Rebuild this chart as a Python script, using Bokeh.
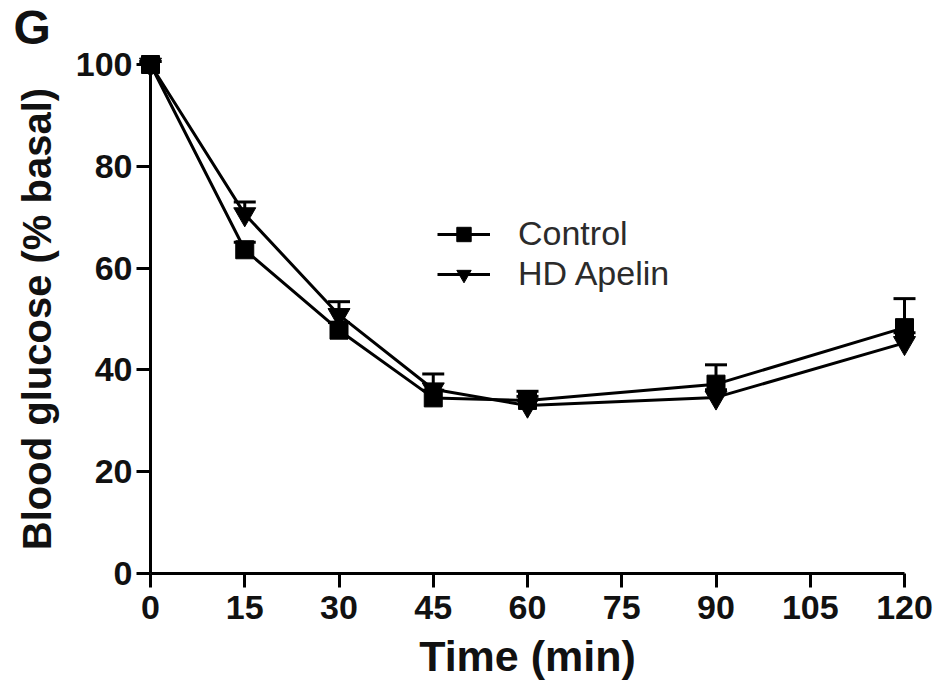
from bokeh.plotting import figure
from bokeh.models import (Range1d, Whisker, ColumnDataSource, Legend, LegendItem,
                          Label, FixedTicker, TeeHead)
from bokeh.embed import file_html
from bokeh.resources import INLINE

# ---- data ----
time_min = [0, 15, 30, 45, 60, 90, 120]
control = [100, 63.6, 47.8, 34.5, 34.0, 37.2, 48.3]
control_err = [0.6, 1.5, 1.5, 1.5, 1.8, 3.8, 5.7]
hd_apelin = [100, 70.6, 50.8, 36.2, 33.0, 34.6, 45.3]
hd_err = [0.6, 2.4, 2.6, 3.0, 1.8, 1.5, 2.0]
x_ticks = [0, 15, 30, 45, 60, 75, 90, 105, 120]
y_ticks = [0, 20, 40, 60, 80, 100]
series_names = ["Control", "HD Apelin"]
panel_letter = "G"

# ---- layout (figure pixels) ----
W, H = 935, 691
x0_px, x120_px = 150, 904      # where data x=0 and x=120 fall
y0_px, y100_px = 573, 64       # where data y=0 and y=100 fall
sx = (x120_px - x0_px) / 120.0
sy = (y0_px - y100_px) / 100.0
x_start = -x0_px / sx
x_end = 120 + (W - x120_px) / sx
y_start = -(H - y0_px) / sy
y_end = 100 + y100_px / sy

def dx(px):
    return x_start + px / sx

def dy(py):
    return y_end - py / sy

p = figure(width=W, height=H, output_backend="svg", toolbar_location=None,
           x_range=Range1d(x_start, x_end), y_range=Range1d(y_start, y_end),
           min_border_left=0, min_border_right=0,
           min_border_top=0, min_border_bottom=0)
p.outline_line_color = None
p.grid.visible = False
p.background_fill_color = "white"
p.border_fill_color = "white"

font = "Liberation Sans"

# lines + markers
r_cl = p.line(time_min, control, line_width=3, line_color="black")
r_cm = p.scatter(time_min, control, marker="square", size=18, color="black")
r_hl = p.line(time_min, hd_apelin, line_width=3, line_color="black")
r_hm = p.scatter(time_min, hd_apelin, marker="inverted_triangle", size=22, color="black")

# error bars (upper only)
for vals, errs in ((control, control_err), (hd_apelin, hd_err)):
    src = ColumnDataSource(dict(x=time_min, lower=vals,
                                upper=[v + e for v, e in zip(vals, errs)]))
    w = Whisker(base="x", lower="lower", upper="upper", source=src,
                dimension="height", line_width=3, line_color="black",
                upper_head=TeeHead(size=22, line_width=3, line_color="black"),
                lower_head=None)
    p.add_layout(w)

# axes
for ax in (p.xaxis[0], p.yaxis[0]):
    ax.fixed_location = 0
    ax.axis_line_width = 3
    ax.major_tick_line_width = 3
    ax.major_tick_out = 14
    ax.major_tick_in = 0
    ax.minor_tick_line_color = None
    ax.major_label_text_font = font
    ax.major_label_text_font_style = "bold"
    ax.major_label_text_font_size = "34px"
    ax.major_label_text_color = "#111111"
    ax.axis_label_text_font = font
    ax.axis_label_text_font_style = "bold"
    ax.axis_label_text_color = "#111111"

p.xaxis[0].bounds = (0, 120)
p.xaxis[0].ticker = FixedTicker(ticks=x_ticks)
p.xaxis[0].major_label_standoff = 8
p.xaxis[0].axis_label = "Time (min)"
p.xaxis[0].axis_label_standoff = 10
p.xaxis[0].axis_label_text_font_size = "43px"

p.yaxis[0].bounds = (0, 100)
p.yaxis[0].ticker = FixedTicker(ticks=y_ticks)
p.yaxis[0].major_label_standoff = 4
p.yaxis[0].axis_label = "Blood glucose (% basal)"
p.yaxis[0].axis_label_standoff = 14
p.yaxis[0].axis_label_text_font_size = "40px"

# legend
legend = Legend(items=[LegendItem(label=series_names[0], renderers=[r_cl, r_cm]),
                       LegendItem(label=series_names[1], renderers=[r_hl, r_hm])],
                location=(437, 398), orientation="vertical",
                glyph_width=53, glyph_height=36, label_height=36, spacing=1,
                label_standoff=28, padding=0, margin=0,
                border_line_color=None, background_fill_alpha=0,
                label_text_font=font, label_text_font_size="34px",
                label_text_color="#2b2b2b")
p.add_layout(legend, "center")

# panel letter
p.add_layout(Label(x=dx(13), y=dy(0), text=panel_letter, text_font=font,
                   text_font_style="bold", text_font_size="48px",
                   text_baseline="top", text_color="#111111"))

open("out.html", "w").write(file_html(p, INLINE))
